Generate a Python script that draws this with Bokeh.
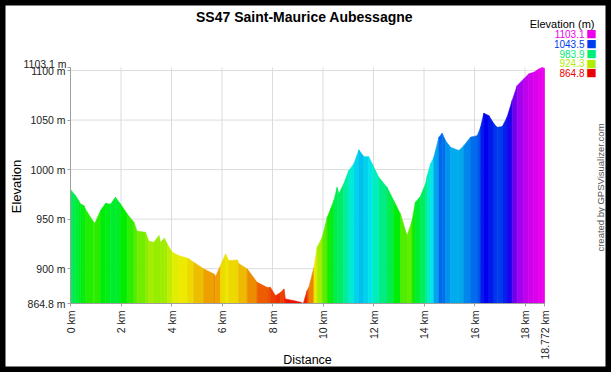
import colorsys
from math import pi

from bokeh.plotting import figure
from bokeh.models import FixedTicker, Label, Range1d
from bokeh.embed import file_html
from bokeh.resources import INLINE

# ---------------- data ----------------
title_text = "SS47 Saint-Maurice  Aubessagne"
credit_text = "created by GPSVisualizer.com"
x_axis_title = "Distance"
y_axis_title = "Elevation"
legend_title = "Elevation (m)"

dist_km = [0.0, 0.2, 0.32, 0.4, 0.53, 0.59, 0.92, 0.96, 1.19, 1.39,
           1.58, 1.78, 1.98, 2.25, 2.51, 2.64, 2.97, 3.10, 3.30, 3.50,
           3.56, 3.72, 3.83, 4.03, 4.29, 4.65, 4.88, 5.28, 5.68, 5.74,
           5.94, 6.14, 6.27, 6.60, 6.67, 7.00, 7.39, 7.79, 7.92, 8.12,
           8.32, 8.45, 8.51, 8.84, 9.11, 9.22, 9.37, 9.44, 9.64, 9.77,
           9.97, 10.17, 10.30, 10.43, 10.56, 10.63, 10.82, 11.02, 11.22, 11.42,
           11.62, 11.81, 11.95, 12.21, 12.54, 12.80, 13.07, 13.33, 13.53, 13.66,
           13.86, 14.06, 14.13, 14.26, 14.39, 14.59, 14.72, 14.85, 15.05, 15.38,
           15.58, 15.84, 16.11, 16.24, 16.37, 16.57, 16.77, 16.90, 17.10, 17.29,
           17.49, 17.69, 17.95, 18.15, 18.35, 18.55, 18.69, 18.772]

elev_m = [980.0, 973.7, 968.7, 965.3, 963.6, 960.0, 946.8, 945.5, 958.6, 966.0,
          965.0, 972.0, 965.3, 955.0, 946.8, 937.7, 936.7, 927.6, 926.6, 933.3,
          926.6, 930.6, 925.0, 916.5, 913.1, 910.5, 906.4, 899.7, 894.6, 891.9,
          903.0, 914.8, 908.0, 908.8, 905.0, 899.7, 886.2, 881.0, 881.0, 872.7,
          876.0, 879.5, 869.4, 867.7, 866.0, 864.8, 877.8, 881.0, 901.0, 921.5,
          931.7, 952.0, 960.3, 968.7, 982.0, 975.5, 985.6, 999.0, 1005.7, 1019.9,
          1013.1, 1013.0, 1005.7, 992.2, 982.0, 968.7, 955.0, 933.3, 948.5, 967.0,
          973.0, 985.6, 994.0, 1005.7, 1012.4, 1032.7, 1036.7, 1029.3, 1022.5, 1019.2,
          1024.2, 1032.7, 1034.3, 1042.7, 1056.9, 1054.5, 1046.2, 1042.7, 1043.4, 1052.9,
          1069.7, 1084.8, 1091.6, 1096.7, 1098.3, 1101.7, 1103.1, 1102.0]

x_ticks = [0, 2, 4, 6, 8, 10, 12, 14, 16, 18, 18.772]
x_tick_labels = ["0 km", "2 km", "4 km", "6 km", "8 km", "10 km", "12 km",
                 "14 km", "16 km", "18 km", "18.772 km"]
y_ticks = [864.8, 900, 950, 1000, 1050, 1100, 1103.1]
y_tick_labels = ["864.8 m", "900 m", "950 m", "1000 m", "1050 m", "1100 m", "1103.1 m"]
y_grid_ticks = [900, 950, 1000, 1050, 1100]
legend_values = [1103.1, 1043.5, 983.9, 924.3, 864.8]

E_MIN, E_MAX = 864.8, 1103.1
D_MIN, D_MAX = 0.0, 18.772

assert len(dist_km) == len(elev_m)


def hue_color(e):
    h = 300.0 * (e - E_MIN) / (E_MAX - E_MIN)
    r, g, b = colorsys.hsv_to_rgb(h / 360.0, 1.0, 0.93)
    return "#%02x%02x%02x" % (int(r * 255), int(g * 255), int(b * 255))


# ---------------- layout (canvas pixels) ----------------
W, H = 611, 372
FL, FR, FT, FB = 70, 544, 67, 303          # where the profile area sits
SX = (FR - FL) / (D_MAX - D_MIN)
SY = (FB - FT) / (E_MAX - E_MIN)


def X(px):
    return D_MIN + (px - FL) / SX


def Y(py):
    return E_MIN + (FB - py) / SY


p = figure(width=W, height=H, output_backend="svg", toolbar_location=None,
           x_range=Range1d(X(0), X(W)), y_range=Range1d(Y(H), Y(0)),
           min_border=0, min_border_left=0, min_border_right=0,
           min_border_top=0, min_border_bottom=0)
p.outline_line_color = "black"
p.outline_line_width = 10
p.background_fill_color = "white"
p.border_fill_color = "white"
p.xgrid.visible = False
p.ygrid.visible = False

# grid lines (drawn under the profile)
p.segment(x0=x_ticks, x1=x_ticks, y0=[E_MIN] * len(x_ticks), y1=[E_MAX] * len(x_ticks),
          line_color="#dcdcdc", line_width=1)
p.segment(x0=[D_MIN] * len(y_grid_ticks), x1=[D_MAX] * len(y_grid_ticks),
          y0=y_grid_ticks, y1=y_grid_ticks, line_color="#dcdcdc", line_width=1)

# filled profile, coloured by elevation
n = len(dist_km)
xs = [[dist_km[i], dist_km[i + 1], dist_km[i + 1], dist_km[i]] for i in range(n - 1)]
ys = [[elev_m[i], elev_m[i + 1], E_MIN, E_MIN] for i in range(n - 1)]
cols = [hue_color((elev_m[i] + elev_m[i + 1]) / 2.0) for i in range(n - 1)]
p.patches(xs, ys, fill_color=cols, line_color=cols, line_width=0.6)

# axes, pinned to the data edges of the profile
FONT = "Liberation Sans"
p.xaxis.fixed_location = E_MIN
p.yaxis.fixed_location = D_MIN
p.xaxis.bounds = (D_MIN, D_MAX)
p.yaxis.bounds = (E_MIN, E_MAX)
p.xaxis.ticker = FixedTicker(ticks=x_ticks)
p.yaxis.ticker = FixedTicker(ticks=y_ticks)
p.xaxis.major_label_overrides = {t: l for t, l in zip(x_ticks, x_tick_labels)}
ov = {t: l for t, l in zip(y_ticks, y_tick_labels)}
ov[1103.1] = ""
p.yaxis.major_label_overrides = ov
p.xaxis.major_label_orientation = pi / 2
for ax in (p.xaxis, p.yaxis):
    ax.axis_line_color = "#a0a0a0"
    ax.major_tick_line_color = "#a0a0a0"
    ax.major_tick_out = 3
    ax.major_tick_in = 0
    ax.minor_tick_line_color = None
    ax.major_label_text_font = FONT
    ax.major_label_text_font_size = "10.5px"
    ax.major_label_text_color = "#222222"
p.yaxis.major_label_standoff = 2
p.xaxis.major_label_standoff = 4


def add_text(px, py, text, size, color="#000000", align="center", angle=0.0,
             bold=False, font=FONT):
    p.add_layout(Label(x=X(px), y=Y(py), text=text, text_align=align,
                       text_baseline="middle", text_font=font,
                       text_font_style="bold" if bold else "normal",
                       text_font_size=size, text_color=color, angle=angle))


add_text(306, 16, title_text, "14px", bold=True)
add_text(16, 186, y_axis_title, "13px", angle=pi / 2)
add_text(307, 359, x_axis_title, "12.5px")
add_text(66, 63, y_tick_labels[-1], "10.5px", color="#222222", align="right")
add_text(600, 187, credit_text, "9.5px", color="#555555", angle=pi / 2)
add_text(594, 23, legend_title, "11px", align="right")
row_y = [33, 43, 53, 62.5, 72]
for v, ry in zip(legend_values, row_y):
    c = hue_color(v)
    add_text(584, ry, "%.1f" % v, "10px", color=c, align="right")
    add_text(591, ry, "\u25a0", "11px", color=c, font="DejaVu Sans")

open("out.html", "w").write(file_html(p, INLINE))
